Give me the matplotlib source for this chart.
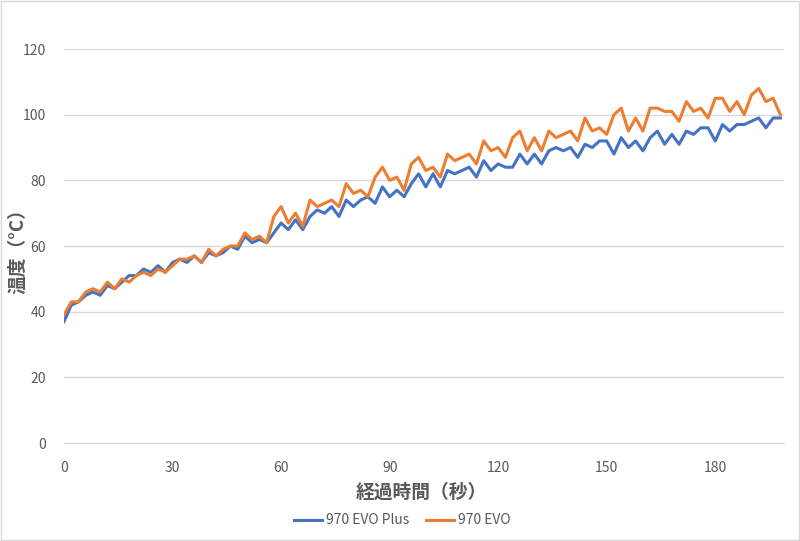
import matplotlib
matplotlib.use("Agg")
import matplotlib.pyplot as plt
from matplotlib.patches import Rectangle

plt.rcParams['font.family'] = ['Noto Sans CJK JP', 'DejaVu Sans']

# 経過時間（秒）: 2秒ごとの計測
seconds = list(range(0, 200, 2))

evo_plus = [37, 42, 43, 45, 46, 45, 48, 47, 49, 51,
            51, 53, 52, 54, 52, 55, 56, 55, 57, 55,
            58, 57, 58, 60, 59, 63, 61, 62, 61, 64,
            67, 65, 68, 65, 69, 71, 70, 72, 69, 74,
            72, 74, 75, 73, 78, 75, 77, 75, 79, 82,
            78, 82, 78, 83, 82, 83, 84, 81, 86, 83,
            85, 84, 84, 88, 85, 88, 85, 89, 90, 89,
            90, 87, 91, 90, 92, 92, 88, 93, 90, 92,
            89, 93, 95, 91, 94, 91, 95, 94, 96, 96,
            92, 97, 95, 97, 97, 98, 99, 96, 99, 99]

evo = [39, 43, 43, 46, 47, 46, 49, 47, 50, 49,
       51, 52, 51, 53, 52, 54, 56, 56, 57, 55,
       59, 57, 59, 60, 60, 64, 62, 63, 61, 69,
       72, 67, 70, 66, 74, 72, 73, 74, 72, 79,
       76, 77, 75, 81, 84, 80, 81, 77, 85, 87,
       83, 84, 81, 88, 86, 87, 88, 85, 92, 89,
       90, 87, 93, 95, 89, 93, 89, 95, 93, 94,
       95, 92, 99, 95, 96, 94, 100, 102, 95, 99,
       95, 102, 102, 101, 101, 98, 104, 101, 102, 99,
       105, 105, 101, 104, 100, 106, 108, 104, 105, 100]

series_names = ['970 EVO Plus', '970 EVO']
colors = ['#4472C4', '#ED7D31']
x_ticks = [0, 30, 60, 90, 120, 150, 180]
y_ticks = [0, 20, 40, 60, 80, 100, 120]

fig = plt.figure(figsize=(8, 5.41), dpi=100)
ax = fig.add_axes([0.08, 0.1811, 0.9, 0.7283])

ax.plot(seconds, evo_plus, color=colors[0], lw=2.2, label=series_names[0],
        solid_joinstyle='round')
ax.plot(seconds, evo, color=colors[1], lw=2.2, label=series_names[1],
        solid_joinstyle='round')

ax.set_xlim(0, 199)
ax.set_ylim(0, 120)
ax.set_xticks(x_ticks)
ax.set_yticks(y_ticks)
ax.grid(axis='y', color='#D9D9D9', lw=1)
ax.set_axisbelow(True)
for s in ['top', 'right', 'left']:
    ax.spines[s].set_visible(False)
ax.spines['bottom'].set_color('#D9D9D9')
ax.tick_params(axis='both', length=0, labelsize=10, colors='#595959')
ax.tick_params(axis='x', pad=13)
ax.tick_params(axis='y', pad=13)

fig.text(0.527, 0.0906, '経過時間（秒）', ha='center', va='center',
         fontsize=13.5, fontweight='bold', color='#595959')
fig.text(0.0225, 0.545, '温度（°C）', ha='center', va='center', rotation=90,
         fontsize=13.5, fontweight='bold', color='#595959')

fig.legend(loc='center', bbox_to_anchor=(0.503, 0.038), ncol=2, frameon=False,
           fontsize=10, handlelength=2.0, handletextpad=0.3, columnspacing=1.2,
           labelcolor='#595959')

fig.patches.append(Rectangle((0.001, 0.001), 0.998, 0.998, transform=fig.transFigure,
                             fill=False, edgecolor='#D9D9D9', lw=1))

fig.savefig('out.png', dpi=100)
